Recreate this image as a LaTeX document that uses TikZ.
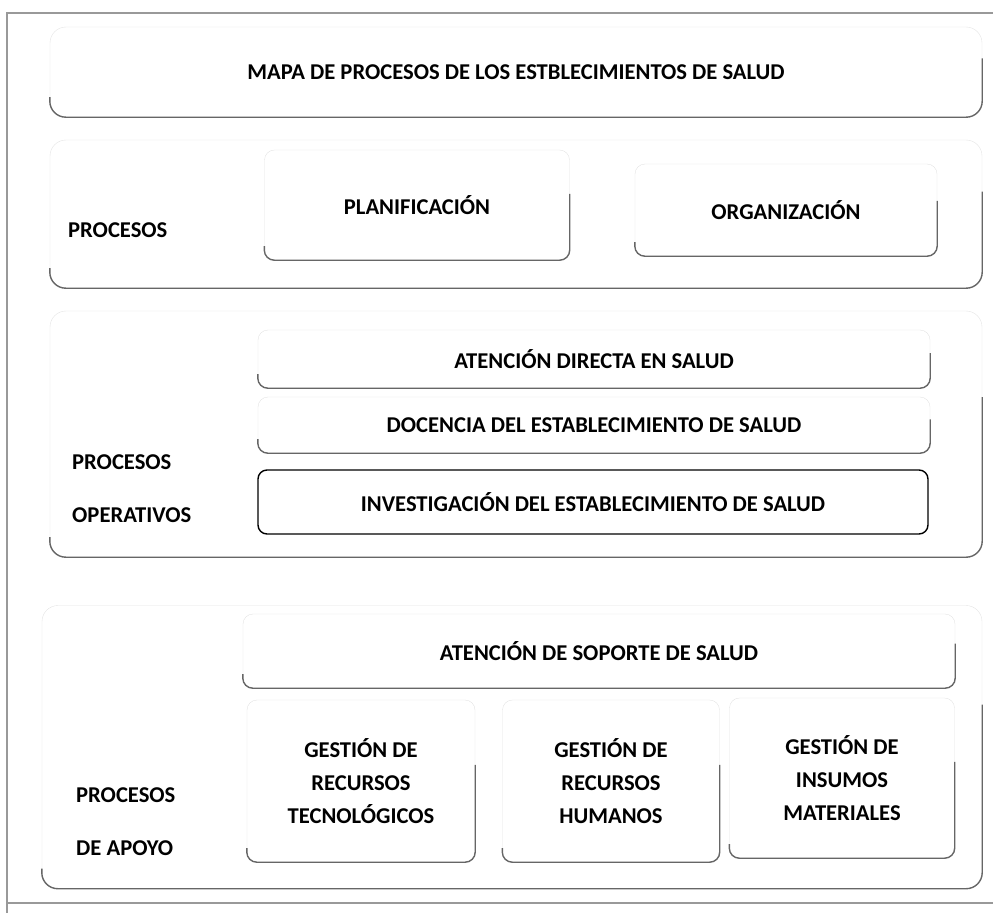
\documentclass[tikz,border=0pt]{standalone}
\usepackage{fontspec}
\setmainfont{Carlito}
\usetikzlibrary{positioning, calc}

\begin{document}
\begin{tikzpicture}[x=1pt, y=-1pt, font=\fontsize{22.6}{26}\selectfont\bfseries,
    every node/.style={inner sep=0pt},
    zone/.style={draw=gray!22, rounded corners=16pt, thin},
    proc/.style={draw=gray!22, rounded corners=10pt, thin, align=center},
    gest/.style={proc, font=\fontsize{22.6}{33}\selectfont\bfseries},
    rim/.style={draw=black!60, line width=1.4pt, rounded corners=10pt},
    frame/.style={draw=gray!80, line width=2pt},
    tag/.style={anchor=west}]
  \useasboundingbox (0,0) rectangle (993,913);
  \draw[frame] (993,13) -- (7,13) -- (7,913);
  \draw[frame] (7,903) -- (993,903);

  % zonas
  \node[zone, minimum width=932pt, minimum height=90pt] (title) at (516,72) {MAPA DE PROCESOS DE LOS ESTBLECIMIENTOS DE SALUD};
  \node[zone, minimum width=932pt, minimum height=148pt] (estr) at (516,214) {};
  \node[zone, minimum width=932pt, minimum height=246pt] (oper) at (516,434) {};
  \node[zone, minimum width=940pt, minimum height=283pt] (apoyo) at (512,747) {};

  \node[tag] (estrA) at (68,230) {PROCESOS};
  \node[tag] (operA) at (72,462) {PROCESOS};
  \node[tag] (operB) at (72,515) {OPERATIVOS};
  \node[tag] (apoyoA) at (76,795) {PROCESOS};
  \node[tag] (apoyoB) at (76,848) {DE APOYO};

  % procesos
  \node[proc, minimum width=305pt, minimum height=110pt] (plan) at (417,205) {PLANIFICACIÓN};
  \node[proc, minimum width=302pt, minimum height=92pt] (org) at (786,210) {ORGANIZACIÓN};
  \node[proc, minimum width=672pt, minimum height=58pt] (aten) at (594,359) {ATENCIÓN DIRECTA EN SALUD};
  \node[proc, minimum width=672pt, minimum height=56pt] (doc) at (594,425) {DOCENCIA DEL ESTABLECIMIENTO DE SALUD};
  \node[draw=black, line width=1.4pt, rounded corners=9pt, minimum width=670pt, minimum height=64pt] (inv) at (593,502) {INVESTIGACIÓN DEL ESTABLECIMIENTO DE SALUD};
  \node[proc, minimum width=712pt, minimum height=74pt] (sop) at (599,651) {ATENCIÓN DE SOPORTE DE SALUD};
  \node[gest, minimum width=228pt, minimum height=162pt] (tec) at (361,781) {GESTIÓN DE\\RECURSOS\\TECNOLÓGICOS};
  \node[gest, minimum width=217pt, minimum height=162pt] (hum) at (611,781) {GESTIÓN DE\\RECURSOS\\HUMANOS};
  \node[gest, minimum width=225pt, minimum height=160pt] (ins) at (842,778) {GESTIÓN DE\\INSUMOS\\MATERIALES};

  % bordes oscuros
  \foreach \n in {title, estr, oper, apoyo}
    \draw[rim, rounded corners=16pt] ([yshift=20pt]\n.south west) -- (\n.south west) -- (\n.south east) -- ($(\n.south east)!0.65!(\n.north east)$);
  \foreach \n in {plan, org, aten, doc, sop, tec, hum, ins}
    \draw[rim] ([yshift=14pt]\n.south west) -- (\n.south west) -- (\n.south east) -- ($(\n.south east)!0.6!(\n.north east)$);
\end{tikzpicture}
\end{document}
